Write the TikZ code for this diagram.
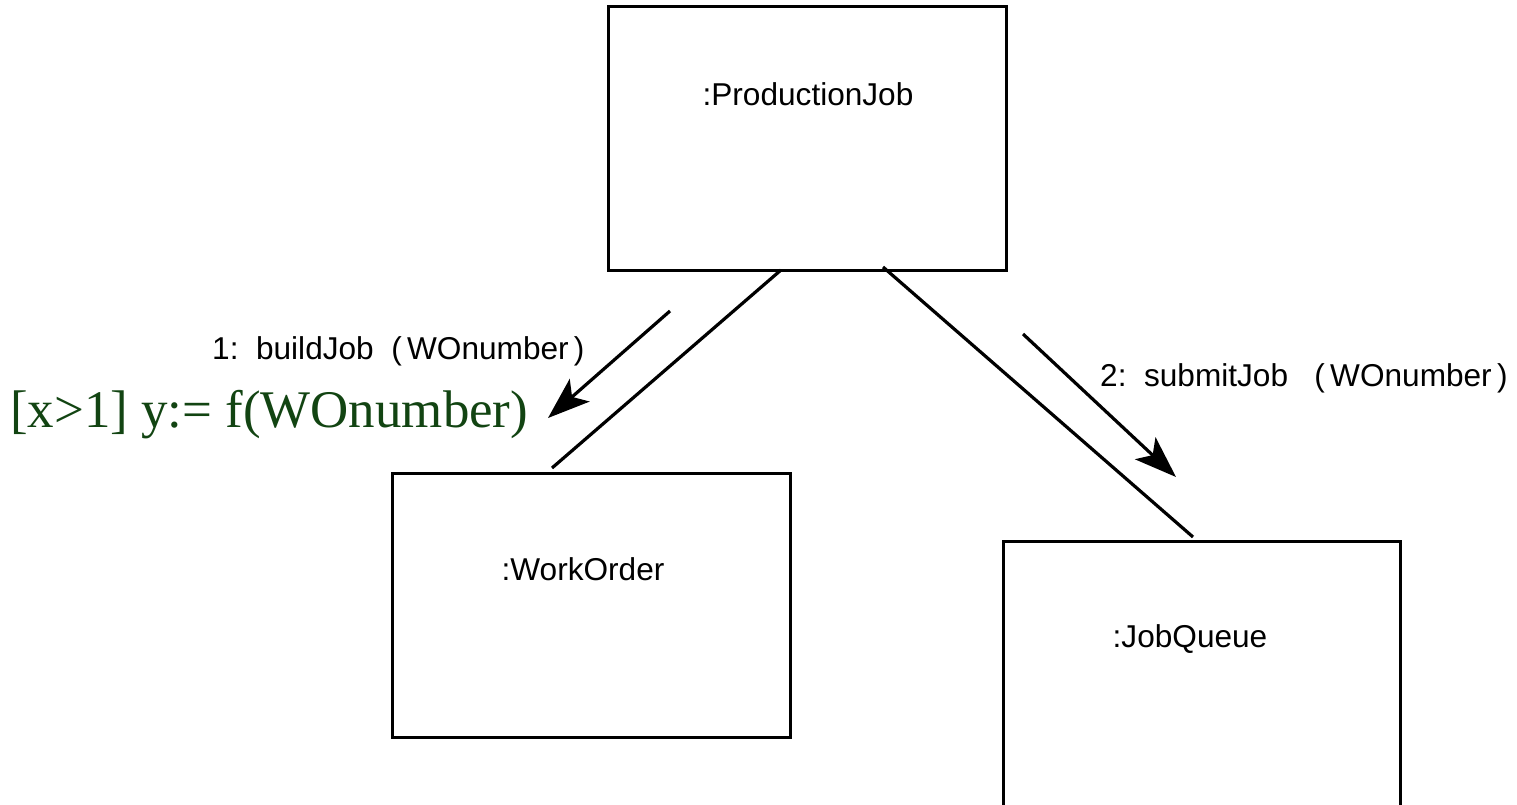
\documentclass[tikz,border=0pt]{standalone}
\usepackage{fontspec}
\setmainfont{Liberation Sans}
\newfontfamily\timesfont{Liberation Serif}
\usetikzlibrary{arrows.meta}
\definecolor{guardgreen}{RGB}{18,68,18}
\tikzset{
  objbox/.style={draw=black, line width=3pt, rectangle, inner sep=0pt, outer sep=0pt},
  objlabel/.style={anchor=base, inner sep=0pt, font=\fontsize{31.6}{38}\selectfont},
  msglabel/.style={anchor=base west, inner sep=0pt, font=\fontsize{31.6}{38}\selectfont},
  guardlabel/.style={anchor=base west, inner sep=0pt, text=guardgreen, font=\timesfont\fontsize{52.9}{60}\selectfont},
  linkline/.style={draw=black, line width=3.2pt},
  msgarrow/.style={draw=black, line width=3.2pt, -{Stealth[length=42pt, width=30pt, inset=10pt]}}
}
\begin{document}
\begin{tikzpicture}[x=1pt, y=-1pt]
\clip (0,0) rectangle (1517,805);
\fill[white] (0,0) rectangle (1517,805);

% object boxes
\node[objbox, minimum width=398pt, minimum height=263pt] (pj) at (807,138.5) {};
\node[objbox, minimum width=398pt, minimum height=264pt] (wo) at (591,605) {};
\node[objbox, minimum width=397pt, minimum height=272pt] (jq) at (1201.5,677) {};

% object names
\node[objlabel] (pjname) at (808,106) {:ProductionJob};
\node[objlabel] (woname) at (583,580) {:WorkOrder};
\node[objlabel] (jqname) at (1190,647) {:JobQueue};

% links
\draw[linkline] ([xshift=173pt]pj.south west) -- ([xshift=160pt, yshift=5pt]wo.north west);
\draw[linkline] ([xshift=275pt, yshift=3pt]pj.south west) -- ([xshift=190pt, yshift=4pt]jq.north west);

% messages
\coordinate (m1s) at (670,311);
\coordinate (m1e) at (548,418);
\coordinate (m2s) at (1023,334);
\coordinate (m2e) at (1176,477);
\draw[msgarrow] (m1s) -- (m1e);
\draw[msgarrow] (m2s) -- (m2e);

\node[msglabel] (m1label) at (212,359) {1:\ \ buildJob\ \ (\,WOnumber\,)};
\node[msglabel] (m2label) at (1100,386) {2:\ \ submitJob\ \ \ (\,WOnumber\,)};
\node[guardlabel] (guard) at (10,427) {[x>1] y:= f(WOnumber)};
\end{tikzpicture}
\end{document}
